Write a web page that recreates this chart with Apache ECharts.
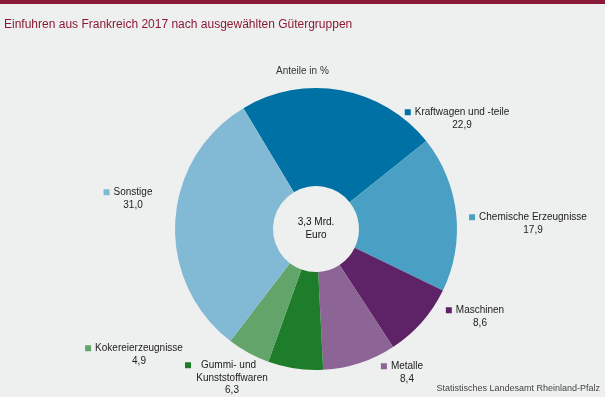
<!DOCTYPE html>
<html>
<head>
<meta charset="utf-8">
<script src="https://cdn.jsdelivr.net/npm/echarts@6/dist/echarts.min.js"></script>
<style>
  html, body { margin: 0; padding: 0; background: #eef0ef; }
  #chart { width: 605px; height: 397px; }
</style>
</head>
<body>
<div id="chart"></div>
<script>
// data
var categories = ['Kraftwagen und -teile', 'Chemische Erzeugnisse', 'Maschinen', 'Metalle', 'Gummi- und\nKunststoffwaren', 'Kokereierzeugnisse', 'Sonstige'];
var shares = [22.9, 17.9, 8.6, 8.4, 6.3, 4.9, 31.0];
var colors = ['#0071a4', '#4aa0c4', '#5e2266', '#8c6496', '#1e7d2a', '#62a46a', '#82bad6'];

// label anchors (center x, top y)
var labelPos = [[457, 106], [528, 211], [475, 304], [402, 360], [227, 359], [134, 342], [128, 186]];

var chart = echarts.init(document.getElementById('chart'));

function fmt(v) { return v.toFixed(1).replace('.', ','); }

var option = {
    backgroundColor: '#eef0ef',
    animation: false,
    graphic: [
        { type: 'rect', left: 0, top: 0, shape: { width: 605, height: 4 }, style: { fill: '#8b1a36' } },
        { type: 'text', left: 4, top: 19, style: { text: 'Einfuhren aus Frankreich 2017 nach ausgewählten Gütergruppen', fill: '#8b1a36', font: '12px "Liberation Sans", Arial, sans-serif' } },
        { type: 'text', left: 276, top: 66, style: { text: 'Anteile in %', fill: '#333', font: '10px "Liberation Sans", Arial, sans-serif' } },
        { type: 'text', x: 316, y: 216, style: { text: '3,3 Mrd.\nEuro', fill: '#111', align: 'center', lineHeight: 13, font: '10px "Liberation Sans", Arial, sans-serif' } },
        { type: 'text', right: 5, top: 384, style: { text: 'Statistisches Landesamt Rheinland-Pfalz', fill: '#444', font: '9px "Liberation Sans", Arial, sans-serif' } }
    ],
    series: [{
        type: 'pie',
        center: [316, 229],
        radius: [43, 141],
        startAngle: 121,
        clockwise: true,
        silent: true,
        labelLine: { show: false },
        label: {
            show: true,
            position: 'outside',
            align: 'center',
            overflow: 'none',
            edgeDistance: 0,
            bleedMargin: 0,
            lineHeight: 12.5,
            fontFamily: '"Liberation Sans", Arial, sans-serif',
            fontSize: 10,
            color: '#222',
            formatter: function (p) {
                var lines = p.name.split('\n');
                var head = lines.length > 1 ? 't2' : 't';
                var s = '{m' + p.dataIndex + '|}{' + head + '|' + lines[0] + '}';
                for (var i = 1; i < lines.length; i++) s += '\n{p|' + lines[i] + '}';
                s += '\n{p|' + fmt(p.value) + '}';
                return s;
            },
            rich: (function () {
                var r = {
                    t: { fontSize: 10, color: '#222', padding: [0, 0, 0, 4] },
                    t2: { fontSize: 10, color: '#222', padding: [0, 13, 0, 10] },
                    p: { fontSize: 10, color: '#222', padding: [0, 0, 0, 10] }
                };
                colors.forEach(function (c, i) {
                    r['m' + i] = { width: 6, height: 6, backgroundColor: c };
                });
                return r;
            })()
        },
        labelLayout: function (params) {
            var pos = labelPos[params.dataIndex];
            return { x: pos[0], y: pos[1], align: 'center', verticalAlign: 'top' };
        },
        data: categories.map(function (n, i) {
            return { name: n, value: shares[i], itemStyle: { color: colors[i] } };
        })
    }]
};

chart.setOption(option);
</script>
</body>
</html>
